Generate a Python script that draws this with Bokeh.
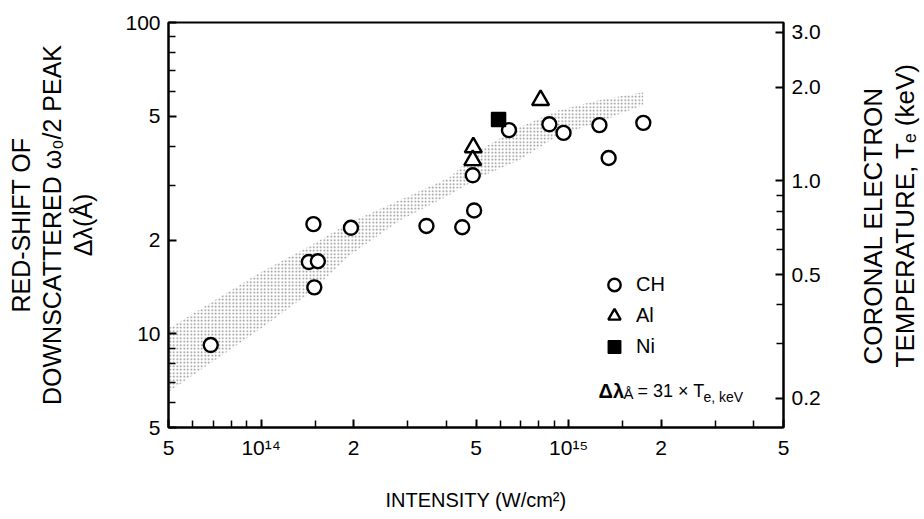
import math
from bokeh.plotting import figure
from bokeh.layouts import row
from bokeh.models import Range1d, LogScale, LogAxis, FixedTicker, Label, Legend, LegendItem
from bokeh.embed import file_html
from bokeh.resources import INLINE

# ---------------- data ----------------
# intensity (W/cm^2) and red-shift (Angstrom)
ch_x = [6.86e13, 1.43e14, 1.53e14, 1.49e14, 1.48e14, 1.96e14, 3.45e14, 4.51e14,
        4.93e14, 4.88e14, 6.40e14, 8.66e14, 9.63e14, 1.26e15, 1.35e15, 1.75e15]
ch_y = [9.2, 17.0, 17.1, 14.1, 22.5, 21.9, 22.2, 22.0,
        24.9, 32.3, 45.1, 47.1, 44.2, 46.8, 36.7, 47.6]
al_x = [4.90e14, 4.88e14, 8.11e14]
al_y = [39.7, 36.1, 56.3]
ni_x = [5.92e14]
ni_y = [48.8]

# shaded band (upper / lower edge)
band_x = [5.0e13, 1.0e14, 1.45e14, 1.95e14, 2.83e14, 4.1e14, 5.13e14, 6.9e14, 9.3e14, 1.25e15, 1.75e15]
band_hi = [10.4, 15.8, 19.2, 22.8, 26.9, 31.8, 38.9, 46.1, 52.3, 56.3, 59.7]
band_lo = [6.5, 10.4, 13.6, 17.9, 23.1, 27.9, 31.8, 36.1, 43.4, 47.8, 54.3]

# axes
x_ticks = [5e13, 1e14, 2e14, 5e14, 1e15, 2e15, 5e15]
x_tick_labels = ["5", "10\u00b9\u2074", "2", "5", "10\u00b9\u2075", "2", "5"]
x_minor = [6e13, 7e13, 8e13, 9e13, 1.5e14, 3e14, 4e14, 6e14, 7e14, 8e14, 9e14, 1.5e15, 3e15, 4e15]
y_ticks = [5, 10, 20, 50, 100]
y_tick_labels = ["5", "10", "2", "5", "100"]
y_minor = [6, 7, 8, 9, 30, 40, 60, 70, 80, 90]
te_ticks = [0.2, 0.5, 1.0, 2.0, 3.0]
te_tick_labels = ["0.2", "0.5", "1.0", "2.0", "3.0"]
te_minor = [0.3, 0.4, 0.6, 0.7, 0.8, 0.9]
RATIO = 31.0  # delta-lambda = 31 x Te(keV)
X_RANGE = (5e13, 5e15)
Y_RANGE = (5, 100)

x_title = "INTENSITY (W/cm\u00b2)"
y_title = "RED-SHIFT OF\nDOWNSCATTERED \u03c9\u2080/2 PEAK\n\u0394\u03bb(\u00c5)"
te_title_lines = ["CORONAL ELECTRON", "TEMPERATURE, T\u2091 (keV)"]
legend_labels = ["CH", "Al", "Ni"]

FONT = "Liberation Sans"
TICK_SIZE = "21px"

# ---------------- main figure ----------------
H = 519
W_MAIN, W_SIDE = 840, 84
L, R, T, B = 168, 57, 22, 92
FB = H - B  # frame bottom (pixels from top)
p = figure(width=W_MAIN, height=H, x_axis_type="log", y_axis_type="log",
           x_range=X_RANGE, y_range=Y_RANGE, output_backend="svg",
           toolbar_location=None, min_border_left=L, min_border_right=R,
           min_border_top=T, min_border_bottom=B)
p.grid.visible = False
p.outline_line_color = "black"
p.outline_line_width = 2
p.background_fill_color = "white"
p.border_fill_color = "white"

p.extra_y_ranges = {"te": Range1d(Y_RANGE[0] / RATIO, Y_RANGE[1] / RATIO)}
p.extra_y_scales = {"te": LogScale()}
right = LogAxis(y_range_name="te")
p.add_layout(right, "right")

xa = p.xaxis[0]
ya = p.yaxis[0]
xa.ticker = FixedTicker(ticks=x_ticks, minor_ticks=x_minor)
ya.ticker = FixedTicker(ticks=y_ticks, minor_ticks=y_minor)
right.ticker = FixedTicker(ticks=te_ticks, minor_ticks=te_minor)
xa.major_label_overrides = dict(zip(x_ticks, x_tick_labels))
ya.major_label_overrides = dict(zip(y_ticks, y_tick_labels))
right.major_label_overrides = dict(zip(te_ticks, te_tick_labels))

for ax in (xa, ya, right):
    ax.axis_line_width = 2
    ax.axis_line_color = "black"
    ax.major_tick_in = 8
    ax.major_tick_out = 0
    ax.minor_tick_in = 7
    ax.minor_tick_out = 0
    ax.major_tick_line_width = 2
    ax.minor_tick_line_width = 1.5
    ax.major_tick_line_color = "black"
    ax.minor_tick_line_color = "black"
    ax.major_label_text_font = FONT
    ax.major_label_text_font_size = TICK_SIZE
    ax.major_label_text_color = "black"
    ax.major_label_standoff = 8
    ax.axis_label_text_font = FONT
    ax.axis_label_text_font_style = "normal"
    ax.axis_label_text_color = "black"

xa.axis_label = x_title
xa.axis_label_text_font_size = "20px"
xa.axis_label_standoff = 27

ya.axis_label = y_title
ya.axis_label_text_font_size = "25px"
ya.axis_label_text_line_height = 1.12
ya.axis_label_standoff = 25

# band
p.patch(band_x + band_x[::-1], band_hi + band_lo[::-1],
        fill_color="white", fill_alpha=0.0, line_color=None,
        hatch_pattern="dot", hatch_color="#6a6a6a", hatch_scale=3.5, hatch_weight=1, hatch_alpha=0.8)

r_ch = p.scatter(ch_x, ch_y, marker="circle", size=14, line_color="black",
                 line_width=2.4, fill_color="white")
r_al = p.scatter(al_x, al_y, marker="triangle", size=17, line_color="black",
                 line_width=2.4, fill_color="white")
r_ni = p.scatter(ni_x, ni_y, marker="square", size=14, line_color="black",
                 line_width=1.5, fill_color="black")

legend = Legend(items=[LegendItem(label=legend_labels[0], renderers=[r_ch]),
                       LegendItem(label=legend_labels[1], renderers=[r_al]),
                       LegendItem(label=legend_labels[2], renderers=[r_ni])],
                location=(428, 65), orientation="vertical",
                glyph_width=36, glyph_height=31, label_height=31, spacing=0,
                padding=0, margin=0, label_standoff=4,
                border_line_alpha=0, background_fill_alpha=0,
                label_text_font=FONT, label_text_font_size="20px",
                label_text_color="black")
p.add_layout(legend)


def lab(fig, left, bottom, text, cx, cy, size, align="left", baseline="alphabetic",
        style="normal", angle=0.0):
    fig.add_layout(Label(x=cx - left, y=bottom - cy, x_units="screen", y_units="screen",
                         text=text, text_font=FONT, text_font_size=size,
                         text_font_style=style, text_color="black", angle=angle,
                         text_align=align, text_baseline=baseline))


# annotation inside the plot
lab(p, L, FB, "\u0394\u03bb", 598, 390, "20px", style="bold")
lab(p, L, FB, "\u00c5", 623, 393, "15px")
lab(p, L, FB, "= 31 \u00d7 T", 637, 390, "18px")
lab(p, L, FB, "e, keV", 703, 396, "14px")

# ---------------- right-hand title strip ----------------
pt = figure(width=W_SIDE, height=H, x_range=(0, 1), y_range=(0, 1),
            x_axis_type=None, y_axis_type=None, output_backend="svg",
            toolbar_location=None, min_border=0)
pt.grid.visible = False
pt.outline_line_color = None
pt.background_fill_color = "white"
pt.border_fill_color = "white"
# the strip's frame is aligned with the main frame (bottom at FB)
lab(pt, W_MAIN, FB, te_title_lines[0], 872, 364, "26px", baseline="middle", angle=math.pi / 2)
lab(pt, W_MAIN, FB, te_title_lines[1], 904, 367, "26px", baseline="middle", angle=math.pi / 2)

layout = row(p, pt, spacing=0)
open("out.html", "w").write(file_html(layout, INLINE))
